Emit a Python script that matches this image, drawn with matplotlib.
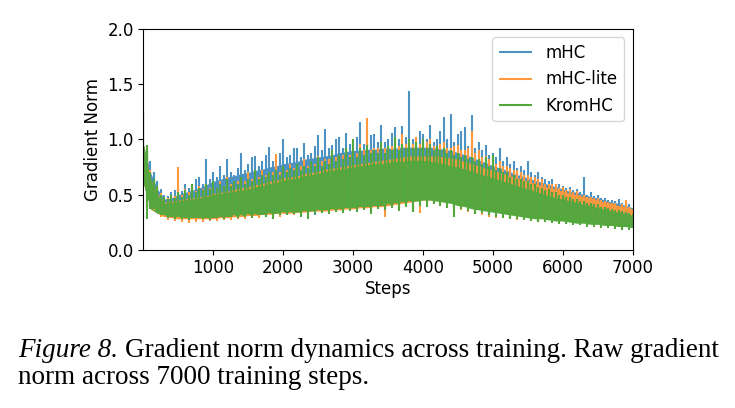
import numpy as np
import matplotlib
matplotlib.use("Agg")
import matplotlib.pyplot as plt

# top/bot  = edges of the dense band, every 100 steps (0..7000)
# peaks    = spike tops, every 50 steps (0..7000)
# dips     = spike bottoms at 50, 150, ..., 6950
mhc_top = [0.95, 0.70, 0.55, 0.46, 0.47, 0.50, 0.52, 0.54, 0.56, 0.59,
           0.62, 0.64, 0.66, 0.67, 0.69, 0.70, 0.72, 0.73, 0.75, 0.76,
           0.78, 0.79, 0.80, 0.82, 0.83, 0.84, 0.85, 0.86, 0.88, 0.89,
           0.90, 0.90, 0.91, 0.91, 0.92, 0.92, 0.92, 0.93, 0.93, 0.93,
           0.93, 0.93, 0.92, 0.91, 0.90, 0.88, 0.86, 0.84, 0.81, 0.79,
           0.76, 0.74, 0.72, 0.69, 0.67, 0.65, 0.63, 0.61, 0.59, 0.57,
           0.55, 0.53, 0.52, 0.50, 0.48, 0.47, 0.45, 0.43, 0.42, 0.40,
           0.38]
mhc_bot = [0.60, 0.39, 0.35, 0.32, 0.31, 0.30, 0.30, 0.30, 0.30, 0.30,
           0.30, 0.31, 0.31, 0.31, 0.32, 0.32, 0.32, 0.33, 0.33, 0.34,
           0.34, 0.35, 0.35, 0.35, 0.36, 0.36, 0.37, 0.37, 0.38, 0.38,
           0.39, 0.39, 0.40, 0.40, 0.41, 0.41, 0.42, 0.43, 0.44, 0.45,
           0.46, 0.46, 0.46, 0.45, 0.44, 0.43, 0.42, 0.41, 0.39, 0.38,
           0.37, 0.36, 0.35, 0.34, 0.33, 0.33, 0.32, 0.31, 0.31, 0.30,
           0.30, 0.29, 0.29, 0.28, 0.28, 0.27, 0.27, 0.26, 0.26, 0.25,
           0.25]
mhc_peaks = [1.25, 0.90, 0.80, 0.68, 0.62, 0.52, 0.50, 0.49, 0.52, 0.54,
             0.55, 0.53, 0.60, 0.56, 0.58, 0.64, 0.66, 0.60, 0.82, 0.64,
             0.70, 0.66, 0.76, 0.68, 0.82, 0.70, 0.68, 0.74, 0.88, 0.72,
             0.78, 0.84, 0.85, 0.76, 0.80, 0.86, 0.93, 0.80, 0.84, 0.88,
             1.00, 0.84, 0.86, 0.92, 0.92, 0.84, 0.97, 0.86, 0.88, 0.94,
             1.04, 0.90, 1.09, 0.92, 0.95, 1.00, 1.02, 0.92, 1.06, 0.96,
             0.98, 1.02, 1.16, 0.96, 0.96, 1.04, 1.05, 0.98, 1.13, 0.98,
             1.00, 1.06, 1.11, 1.00, 1.12, 1.02, 1.44, 1.00, 1.02, 1.08,
             1.05, 1.00, 1.13, 0.98, 1.00, 1.08, 1.20, 1.00, 1.23, 0.98,
             1.05, 1.08, 1.11, 0.94, 1.22, 0.92, 0.98, 0.90, 0.95, 0.86,
             0.88, 0.84, 0.92, 0.80, 0.84, 0.78, 0.80, 0.74, 0.76, 0.72,
             0.80, 0.70, 0.68, 0.70, 0.66, 0.64, 0.62, 0.64, 0.60, 0.60,
             0.58, 0.56, 0.57, 0.54, 0.55, 0.52, 0.66, 0.50, 0.52, 0.49,
             0.50, 0.47, 0.47, 0.45, 0.45, 0.44, 0.46, 0.42, 0.44, 0.41,
             0.36]
mhc_dips = [0.38, 0.37, 0.32, 0.30, 0.30, 0.30, 0.31, 0.30, 0.31, 0.31,
            0.32, 0.33, 0.32, 0.33, 0.34, 0.34, 0.35, 0.35, 0.34, 0.36,
            0.35, 0.37, 0.36, 0.38, 0.31, 0.37, 0.38, 0.39, 0.38, 0.40,
            0.39, 0.40, 0.41, 0.40, 0.42, 0.41, 0.43, 0.42, 0.36, 0.44,
            0.45, 0.44, 0.43, 0.42, 0.40, 0.39, 0.38, 0.37, 0.36, 0.33,
            0.35, 0.34, 0.33, 0.33, 0.32, 0.31, 0.30, 0.30, 0.29, 0.28,
            0.28, 0.27, 0.27, 0.26, 0.26, 0.25, 0.25, 0.24, 0.24, 0.23]

lite_top = [0.95, 0.64, 0.51, 0.43, 0.44, 0.45, 0.46, 0.47, 0.48, 0.49,
            0.51, 0.52, 0.53, 0.55, 0.56, 0.57, 0.59, 0.60, 0.62, 0.63,
            0.65, 0.66, 0.67, 0.69, 0.70, 0.71, 0.73, 0.74, 0.75, 0.76,
            0.77, 0.78, 0.79, 0.80, 0.81, 0.82, 0.83, 0.84, 0.85, 0.85,
            0.85, 0.85, 0.85, 0.84, 0.83, 0.82, 0.80, 0.78, 0.76, 0.74,
            0.72, 0.70, 0.68, 0.66, 0.64, 0.62, 0.60, 0.58, 0.56, 0.55,
            0.53, 0.51, 0.50, 0.48, 0.47, 0.45, 0.43, 0.42, 0.40, 0.39,
            0.37]
lite_bot = [0.60, 0.37, 0.33, 0.30, 0.29, 0.28, 0.28, 0.28, 0.28, 0.28,
            0.28, 0.29, 0.29, 0.30, 0.30, 0.31, 0.31, 0.32, 0.32, 0.33,
            0.33, 0.33, 0.34, 0.34, 0.35, 0.35, 0.35, 0.36, 0.36, 0.37,
            0.37, 0.38, 0.38, 0.39, 0.39, 0.40, 0.41, 0.42, 0.43, 0.44,
            0.45, 0.45, 0.45, 0.44, 0.43, 0.41, 0.40, 0.39, 0.38, 0.37,
            0.36, 0.35, 0.34, 0.33, 0.32, 0.32, 0.31, 0.30, 0.30, 0.29,
            0.29, 0.28, 0.27, 0.27, 0.26, 0.26, 0.25, 0.24, 0.24, 0.23,
            0.23]
lite_peaks = [1.28, 0.85, 0.72, 0.60, 0.55, 0.48, 0.46, 0.47, 0.50, 0.49,
              0.75, 0.50, 0.55, 0.52, 0.56, 0.53, 0.58, 0.55, 0.60, 0.56,
              0.58, 0.56, 0.62, 0.58, 0.66, 0.60, 0.60, 0.62, 0.64, 0.62,
              0.70, 0.64, 0.66, 0.66, 0.72, 0.68, 0.70, 0.70, 0.87, 0.70,
              0.74, 0.72, 0.78, 0.74, 0.76, 0.76, 0.82, 0.76, 0.80, 0.78,
              0.85, 0.80, 0.82, 0.82, 0.88, 0.84, 0.86, 0.86, 0.92, 0.86,
              0.90, 0.88, 0.96, 0.90, 1.19, 0.90, 0.92, 0.92, 0.96, 0.92,
              0.94, 0.94, 1.00, 0.94, 1.05, 0.96, 0.98, 0.96, 1.02, 0.96,
              0.96, 0.98, 1.00, 0.94, 0.94, 0.96, 0.98, 0.92, 0.92, 0.94,
              0.95, 0.90, 0.90, 0.92, 1.08, 0.88, 0.90, 0.84, 0.85, 0.82,
              0.82, 0.78, 0.80, 0.76, 0.76, 0.74, 0.72, 0.72, 0.70, 0.68,
              0.68, 0.66, 0.66, 0.64, 0.64, 0.60, 0.60, 0.60, 0.60, 0.56,
              0.57, 0.54, 0.55, 0.52, 0.53, 0.50, 0.50, 0.48, 0.48, 0.46,
              0.47, 0.45, 0.44, 0.43, 0.42, 0.41, 0.40, 0.41, 0.45, 0.39,
              0.36]
lite_dips = [0.37, 0.36, 0.30, 0.27, 0.26, 0.25, 0.24, 0.25, 0.25, 0.26,
             0.26, 0.27, 0.27, 0.28, 0.28, 0.29, 0.29, 0.30, 0.30, 0.30,
             0.31, 0.31, 0.32, 0.32, 0.33, 0.33, 0.33, 0.34, 0.34, 0.35,
             0.35, 0.36, 0.36, 0.37, 0.30, 0.38, 0.38, 0.39, 0.40, 0.33,
             0.42, 0.41, 0.40, 0.39, 0.34, 0.36, 0.34, 0.32, 0.31, 0.30,
             0.29, 0.29, 0.28, 0.27, 0.27, 0.26, 0.26, 0.25, 0.25, 0.24,
             0.24, 0.23, 0.23, 0.22, 0.22, 0.21, 0.21, 0.20, 0.20, 0.20]

krom_top = [0.95, 0.64, 0.50, 0.42, 0.43, 0.44, 0.45, 0.46, 0.47, 0.48,
            0.50, 0.51, 0.52, 0.53, 0.54, 0.55, 0.57, 0.58, 0.60, 0.61,
            0.63, 0.64, 0.65, 0.67, 0.68, 0.69, 0.71, 0.72, 0.73, 0.74,
            0.75, 0.76, 0.77, 0.78, 0.78, 0.79, 0.80, 0.80, 0.81, 0.81,
            0.81, 0.80, 0.79, 0.78, 0.76, 0.75, 0.73, 0.71, 0.69, 0.67,
            0.65, 0.63, 0.61, 0.59, 0.57, 0.55, 0.53, 0.51, 0.49, 0.47,
            0.46, 0.44, 0.43, 0.41, 0.40, 0.38, 0.37, 0.35, 0.34, 0.33,
            0.31]
krom_bot = [0.60, 0.37, 0.33, 0.31, 0.30, 0.30, 0.29, 0.29, 0.29, 0.29,
            0.29, 0.30, 0.30, 0.31, 0.31, 0.32, 0.32, 0.32, 0.33, 0.33,
            0.34, 0.34, 0.34, 0.35, 0.35, 0.36, 0.36, 0.37, 0.37, 0.38,
            0.38, 0.39, 0.39, 0.40, 0.40, 0.41, 0.42, 0.43, 0.44, 0.44,
            0.45, 0.45, 0.44, 0.43, 0.42, 0.40, 0.39, 0.37, 0.36, 0.35,
            0.34, 0.33, 0.32, 0.31, 0.30, 0.29, 0.28, 0.28, 0.27, 0.26,
            0.26, 0.25, 0.24, 0.24, 0.23, 0.23, 0.22, 0.22, 0.21, 0.21,
            0.20]
krom_peaks = [1.25, 0.85, 0.70, 0.58, 0.58, 0.48, 0.48, 0.46, 0.50, 0.47,
              0.52, 0.48, 0.54, 0.50, 0.60, 0.52, 0.56, 0.54, 0.60, 0.55,
              0.62, 0.56, 0.60, 0.58, 0.64, 0.58, 0.62, 0.60, 0.66, 0.60,
              0.64, 0.62, 0.72, 0.64, 0.68, 0.66, 0.70, 0.68, 0.72, 0.68,
              0.76, 0.70, 0.74, 0.72, 0.78, 0.72, 0.76, 0.74, 0.80, 0.76,
              0.84, 0.76, 0.80, 0.78, 0.90, 0.80, 0.86, 0.82, 0.92, 0.84,
              1.00, 0.84, 0.92, 0.86, 0.95, 0.88, 0.90, 0.88, 0.98, 0.88,
              0.94, 0.90, 1.02, 0.90, 0.96, 0.92, 1.00, 0.92, 0.98, 0.92,
              1.00, 0.92, 0.96, 0.90, 0.94, 0.90, 0.92, 0.88, 0.90, 0.86,
              0.88, 0.84, 0.86, 0.82, 0.84, 0.80, 0.82, 0.78, 0.84, 0.76,
              0.86, 0.72, 0.74, 0.70, 0.70, 0.66, 0.68, 0.64, 0.64, 0.62,
              0.62, 0.60, 0.60, 0.57, 0.56, 0.54, 0.55, 0.52, 0.52, 0.50,
              0.50, 0.48, 0.48, 0.46, 0.46, 0.44, 0.44, 0.42, 0.42, 0.41,
              0.41, 0.39, 0.39, 0.38, 0.37, 0.36, 0.36, 0.35, 0.34, 0.33,
              0.32]
krom_dips = [0.28, 0.37, 0.31, 0.29, 0.28, 0.28, 0.27, 0.29, 0.28, 0.27,
             0.29, 0.28, 0.30, 0.29, 0.30, 0.29, 0.31, 0.30, 0.28, 0.31,
             0.31, 0.32, 0.30, 0.28, 0.32, 0.33, 0.32, 0.34, 0.33, 0.35,
             0.34, 0.36, 0.32, 0.37, 0.36, 0.38, 0.35, 0.39, 0.34, 0.40,
             0.39, 0.41, 0.40, 0.38, 0.30, 0.37, 0.35, 0.32, 0.33, 0.31,
             0.30, 0.29, 0.28, 0.28, 0.27, 0.26, 0.25, 0.25, 0.24, 0.23,
             0.23, 0.22, 0.22, 0.21, 0.21, 0.20, 0.20, 0.19, 0.18, 0.18]

# tab colours at alpha 0.8 on white, as solid colours so a series never darkens itself
series = [("mHC", mhc_top, mhc_bot, mhc_peaks, mhc_dips, "#4c92c3"),
          ("mHC-lite", lite_top, lite_bot, lite_peaks, lite_dips, "#ff993e"),
          ("KromHC", krom_top, krom_bot, krom_peaks, krom_dips, "#52a83c")]

band_steps = np.arange(0, 7001, 100)
peak_steps = np.arange(0, 7001, 50)
dip_steps = np.arange(50, 7000, 100)

fig = plt.figure(figsize=(7.35, 4.08), dpi=100)
ax = fig.add_axes([0.1952, 0.388, 0.6656, 0.5408])

for name, top, bot, peaks, dips, color in series:
    top, bot = np.array(top), np.array(bot)
    ax.fill_between(band_steps, bot, top, color=color, lw=0)
    ax.vlines(peak_steps, np.repeat(bot, 2)[:len(peak_steps)], peaks,
              color=color, lw=1.5, label=name)
    ax.vlines(dip_steps, dips, top[:-1], color=color, lw=1.5)

ax.set_xlim(0, 7000)
ax.set_ylim(0, 2.0)
ax.set_xticks([1000, 2000, 3000, 4000, 5000, 6000, 7000])
ax.set_yticks([0.0, 0.5, 1.0, 1.5, 2.0])
ax.tick_params(labelsize=12)
ax.set_xlabel("Steps", fontsize=12, labelpad=2)
ax.set_ylabel("Gradient Norm", fontsize=12)
ax.legend(loc="upper right", fontsize=12)

# caption below the plot, Times-like serif
cap = dict(family="Liberation Serif", fontsize=19.5, va="baseline")
t1 = fig.text(18 / 735, 1 - 357 / 408, "Figure 8.", style="italic", **cap)
fig.canvas.draw()
bb = t1.get_window_extent()
fig.text(bb.x1 / 735 + 0.009, 1 - 357 / 408,
         "Gradient norm dynamics across training. Raw gradient", **cap)
fig.text(18 / 735, 1 - 384 / 408, "norm across 7000 training steps.", **cap)

fig.savefig("out.png", dpi=100)
